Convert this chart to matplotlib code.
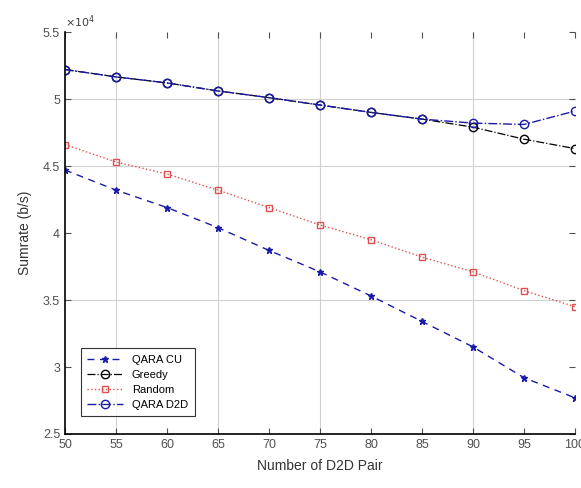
import matplotlib
matplotlib.use("Agg")
import matplotlib.pyplot as plt

plt.rcParams['font.family'] = ['Liberation Sans', 'DejaVu Sans']

# Number of D2D pairs on the x axis
pairs = [50, 55, 60, 65, 70, 75, 80, 85, 90, 95, 100]

# Sum rate (x 10^4 b/s) for each scheme
qara_cu = [4.47, 4.32, 4.19, 4.04, 3.87, 3.71, 3.53, 3.34, 3.15, 2.92, 2.77]
greedy = [5.22, 5.165, 5.12, 5.06, 5.01, 4.955, 4.90, 4.85, 4.79, 4.70, 4.63]
random_ = [4.66, 4.53, 4.44, 4.32, 4.19, 4.06, 3.95, 3.82, 3.71, 3.57, 3.45]
qara_d2d = [5.22, 5.165, 5.12, 5.06, 5.01, 4.955, 4.90, 4.85, 4.82, 4.81, 4.91]

x_ticks = [50, 55, 60, 65, 70, 75, 80, 85, 90, 95, 100]
y_ticks = [2.5, 3.0, 3.5, 4.0, 4.5, 5.0, 5.5]
y_tick_labels = ["2.5", "3", "3.5", "4", "4.5", "5", "5.5"]

fig = plt.figure(figsize=(5.81, 4.88), dpi=100)
ax = fig.add_axes([65 / 581, 54 / 488, 510 / 581, 402 / 488])

blue = "#1a1aa8"
red = "#e05050"

# light grid lines on selected ticks
for gx in [55, 65, 75, 90]:
    ax.axvline(gx, color="#d0d0d0", lw=0.8, zorder=0)
for gy in [3.5, 4.5, 5.0]:
    ax.axhline(gy, color="#d0d0d0", lw=0.8, zorder=0)

ax.plot(pairs, qara_cu, linestyle=(0, (5, 4)), color=blue, marker="*",
        markersize=5, lw=1.0, label="QARA CU")
ax.plot(pairs, greedy, linestyle="-.", color="black", marker="o",
        markersize=6, markerfacecolor="none", lw=0.9, label="Greedy")
ax.plot(pairs, random_, linestyle=":", color=red, marker="s",
        markersize=5, markerfacecolor="none", lw=1.0, label="Random")
ax.plot(pairs, qara_d2d, linestyle="-.", color=blue, marker="o",
        markersize=6, markerfacecolor="none", lw=1.0, label="QARA D2D")

ax.set_xlim(50, 100)
ax.set_ylim(2.5, 5.5)
ax.set_xticks(x_ticks)
ax.set_yticks(y_ticks)
ax.set_yticklabels(y_tick_labels)
ax.tick_params(direction="in", top=True, right=True, labelsize=9,
               colors="#505050", length=4, width=0.8)
for side in ["top", "right"]:
    ax.spines[side].set_visible(False)
for side in ["left", "bottom"]:
    ax.spines[side].set_linewidth(1.2)

ax.set_xlabel("Number of D2D Pair", fontsize=10, color="#333333", labelpad=6)
ax.set_ylabel("Sumrate (b/s)", fontsize=10, color="#333333", labelpad=8)
ax.text(0.0, 1.005, r"$\times10^4$", transform=ax.transAxes, fontsize=8,
        color="#404040", ha="left", va="bottom")

leg = ax.legend(loc="lower left", bbox_to_anchor=(0.02, 0.03), fontsize=8,
                frameon=True, fancybox=False, edgecolor="black",
                borderpad=0.6, handlelength=3.2, labelspacing=0.45)
leg.get_frame().set_linewidth(0.8)

fig.savefig("out.png", dpi=100)
